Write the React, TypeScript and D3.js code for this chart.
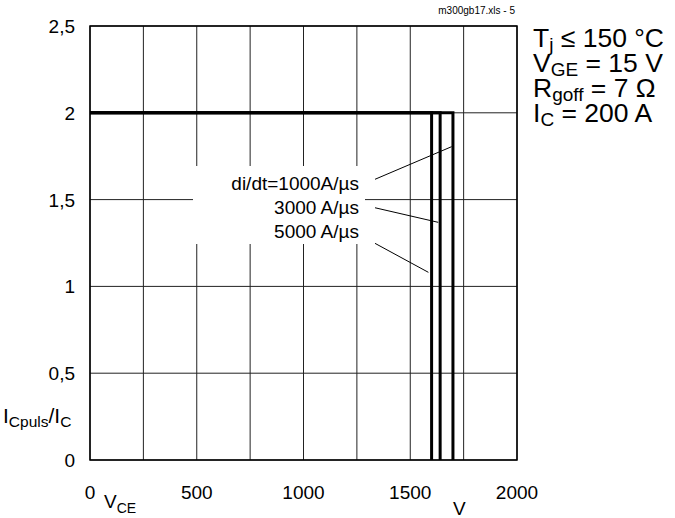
import React from "react";
import * as d3 from "d3";

const xTicks = [0, 500, 1000, 1500, 2000];
const yTicks = [0, 0.5, 1, 1.5, 2, 2.5];
const yTickLabels = ["0", "0,5", "1", "1,5", "2", "2,5"];
const xGrid = d3.range(0, 2001, 250);
const yGrid = d3.range(0, 2.51, 0.5);

// Curves: (0,2) -> (vMax,2) -> (vMax,0)
const seriesNames = ["di/dt=1000A/µs", "3000 A/µs", "5000 A/µs"];
const seriesVmax = [1700, 1640, 1600];
const seriesLevel = [2, 2, 2];
// leader-line endpoints (label side, curve side) in data units
const leaderStart = [[1335, 1.617], [1335, 1.453], [1335, 1.248]];
const leaderEnd = [[1694, 1.805], [1631, 1.369], [1585, 1.081]];

const W = 675, H = 518;
const L = 90, R = 517, T = 26, B = 460;

export default function App() {
  const x = d3.scaleLinear().domain([0, 2000]).range([L, R]);
  const y = d3.scaleLinear().domain([0, 2.5]).range([B, T]);
  const line = d3.line<[number, number]>().x(d => x(d[0])).y(d => y(d[1]));
  const font = "'Liberation Sans', Arial, sans-serif";

  return (
    <svg width={W} height={H} style={{ position: "absolute", left: 0, top: 0 }} fontFamily={font}>
      <rect x={0} y={0} width={W} height={H} fill="#fff" />
      {xGrid.map(v => (
        <line key={"gx" + v} x1={x(v)} x2={x(v)} y1={T} y2={B} stroke="#222" strokeWidth={1} />
      ))}
      {yGrid.map(v => (
        <line key={"gy" + v} x1={L} x2={R} y1={y(v)} y2={y(v)} stroke="#222" strokeWidth={1} />
      ))}
      {/* white box behind labels */}
      <rect x={193} y={166} width={172} height={78} fill="#fff" />
      {seriesVmax.map((v, i) => (
        <path key={"s" + i}
          d={line([[0, seriesLevel[i]], [v, seriesLevel[i]], [v, 0]]) || ""}
          fill="none" stroke="#000" strokeWidth={3} strokeLinejoin="miter" />
      ))}
      {leaderStart.map((s, i) => (
        <line key={"ld" + i} x1={x(s[0])} y1={y(s[1])} x2={x(leaderEnd[i][0])} y2={y(leaderEnd[i][1])}
          stroke="#000" strokeWidth={1} />
      ))}
      <rect x={L} y={T} width={R - L} height={B - T} fill="none" stroke="#000" strokeWidth={1.5} />
      {seriesNames.map((n, i) => (
        <text key={"lab" + i} x={359} y={[190, 214, 238][i]} textAnchor="end" fontSize={19}>{n}</text>
      ))}
      {yTicks.map((v, i) => (
        <text key={"yt" + v} x={75} y={y(v) + 7} textAnchor="end" fontSize={19}>{yTickLabels[i]}</text>
      ))}
      {xTicks.map(v => (
        <text key={"xt" + v} x={x(v)} y={499} textAnchor="middle" fontSize={19}>{v}</text>
      ))}
      <text x={104} y={508} fontSize={19}>V<tspan fontSize={14} dy={5}>CE</tspan></text>
      <text x={453} y={515} fontSize={19}>V</text>
      <text x={3} y={423} fontSize={21}>I<tspan fontSize={15.5} dy={4}>Cpuls</tspan><tspan dy={-4}>/I</tspan><tspan fontSize={15.5} dy={4}>C</tspan></text>
      <text x={515} y={14} textAnchor="end" fontSize={10}>m300gb17.xls - 5</text>
      <g fontSize={26.5}>
        <text x={533} y={46.5}>T<tspan fontSize={19} dy={4}>j</tspan><tspan dy={-4}> ≤ 150 °C</tspan></text>
        <text x={533} y={71.5}>V<tspan fontSize={19} dy={4}>GE</tspan><tspan dy={-4}> = 15 V</tspan></text>
        <text x={533} y={96.5}>R<tspan fontSize={19} dy={4}>goff</tspan><tspan dy={-4}> = 7 Ω</tspan></text>
        <text x={533} y={121.5}>I<tspan fontSize={19} dy={4}>C</tspan><tspan dy={-4}> = 200 A</tspan></text>
      </g>
    </svg>
  );
}
